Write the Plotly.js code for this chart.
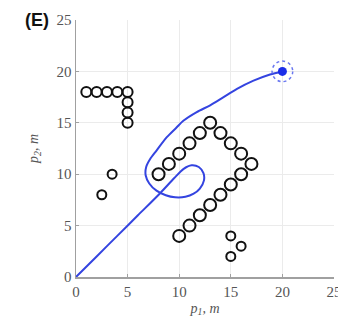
<!DOCTYPE html>
<html><head><meta charset="utf-8">
<script src="https://cdn.plot.ly/plotly-3.0.1.min.js"></script>
<style>html,body{margin:0;padding:0;background:#fff}</style>
</head><body><div id="chart" style="width:338px;height:321px"></div>
<script>
// Data
var wallX = [1, 2, 3, 4, 5, 5, 5, 5];
var wallY = [18, 18, 18, 18, 18, 17, 16, 15];
var smallObsX = [2.5, 3.5, 15, 16, 15];
var smallObsY = [8, 10, 4, 3, 2];
var bigObsX = [10, 11, 12, 13, 14, 15, 16, 17, 8, 9, 10, 11, 12, 13, 14, 15, 16];
var bigObsY = [4, 5, 6, 7, 8, 9, 10, 11, 10, 11, 12, 13, 14, 15, 14, 13, 12];
var pathX = [0, 2, 4, 6, 8.2, 9.5, 10.4, 11.2, 11.9, 12.35, 12.4, 12.0, 11.4, 10.6, 9.6, 8.7, 7.8, 7.1, 6.75, 6.8, 7.2, 7.8, 8.8, 9.7, 10.4, 11.7, 13.0, 14.3, 15.6, 17.2, 18.8, 20];
var pathY = [0, 2, 4, 6, 8.2, 9.6, 10.5, 10.87, 10.7, 10.1, 9.4, 8.6, 8.1, 7.8, 7.75, 7.95, 8.4, 9.1, 9.9, 10.7, 11.5, 12.3, 13.6, 14.5, 15.2, 16.05, 16.7, 17.5, 18.3, 19.1, 19.7, 20];
var goalX = [20];
var goalY = [20];
var goalRadius = 1.0;
var tickVals = [0, 5, 10, 15, 20, 25];
var tickText = ['0', '5', '10', '15', '20', '25'];

var blue = '#3444e0';
var serif = '"Liberation Serif", "Times New Roman", Times, serif';
var traces = [
  {x: wallX, y: wallY, mode: 'markers', type: 'scatter',
   marker: {symbol: 'circle-open', size: 10, color: '#111', line: {width: 2, color: '#111'}}},
  {x: smallObsX, y: smallObsY, mode: 'markers', type: 'scatter',
   marker: {symbol: 'circle-open', size: 9, color: '#111', line: {width: 2, color: '#111'}}},
  {x: bigObsX, y: bigObsY, mode: 'markers', type: 'scatter',
   marker: {symbol: 'circle-open', size: 12, color: '#111', line: {width: 2, color: '#111'}}},
  {x: pathX, y: pathY, mode: 'lines', type: 'scatter',
   line: {color: blue, width: 2, shape: 'spline', smoothing: 0.8}},
  {x: goalX, y: goalY, mode: 'markers', type: 'scatter',
   marker: {symbol: 'circle', size: 9, color: '#1a2de8'}}
];

var axisCommon = {
  range: [0, 25], tickvals: tickVals, ticktext: tickText,
  showgrid: true, gridcolor: '#ebebeb', gridwidth: 1,
  zeroline: false, showline: true, linecolor: '#a0a0a0', linewidth: 1.5,
  ticks: 'inside', ticklen: 3, tickcolor: '#a0a0a0',
  tickfont: {family: serif, size: 15, color: '#555'},
  ticklabeloverflow: 'allow',
  fixedrange: true
};

var layout = {
  width: 338, height: 321,
  margin: {l: 76, r: 4, t: 20, b: 44},
  paper_bgcolor: '#fff', plot_bgcolor: '#fff',
  showlegend: false,
  font: {family: serif},
  xaxis: Object.assign({}, axisCommon, {
    title: {text: '<i>p</i><sub><i>1</i></sub><i>, m</i>', standoff: 4,
            font: {family: serif, size: 14, color: '#555'}}
  }),
  yaxis: Object.assign({}, axisCommon, {
    title: {text: '<i>p</i><sub><i>2</i></sub><i>, m</i>', standoff: 14,
            font: {family: serif, size: 14, color: '#555'}}
  }),
  shapes: [{
    type: 'circle', xref: 'x', yref: 'y',
    x0: goalX[0] - goalRadius, x1: goalX[0] + goalRadius,
    y0: goalY[0] - goalRadius, y1: goalY[0] + goalRadius,
    line: {color: '#6a78f0', width: 1.5, dash: 'dot'}
  }],
  annotations: [{
    text: '<b>(E)</b>', xref: 'paper', yref: 'paper',
    x: -0.205, y: 1.0, xanchor: 'left', yanchor: 'middle', showarrow: false,
    font: {family: 'Liberation Sans, Arial, sans-serif', size: 18, color: '#111'}
  }]
};

Plotly.newPlot('chart', traces, layout, {staticPlot: true, displayModeBar: false});
</script>
</body></html>
